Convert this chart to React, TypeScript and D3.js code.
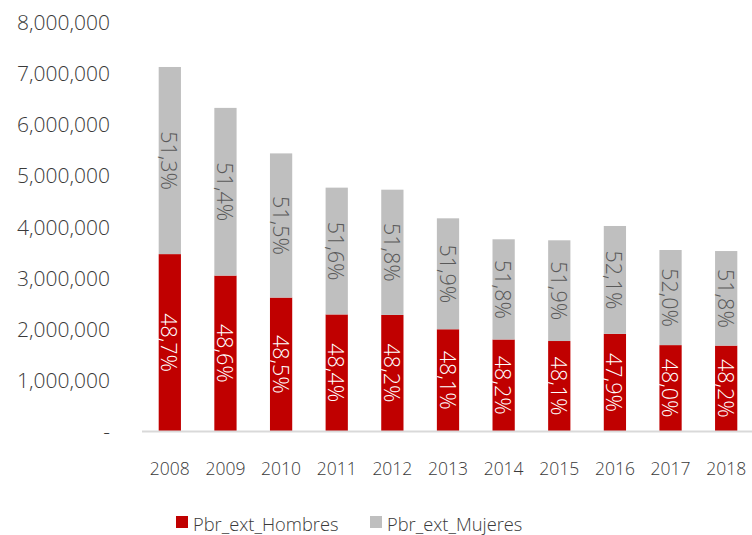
import React from "react";
import * as d3 from "d3";

const years = ["2008", "2009", "2010", "2011", "2012", "2013", "2014", "2015", "2016", "2017", "2018"];
const hombres = [3460000, 3040000, 2610000, 2280000, 2270000, 1990000, 1790000, 1760000, 1900000, 1680000, 1670000];
const mujeres = [3660000, 3280000, 2820000, 2480000, 2450000, 2170000, 1960000, 1970000, 2110000, 1860000, 1850000];
const hombresPct = ["48,7%", "48,6%", "48,5%", "48,4%", "48,2%", "48,1%", "48,2%", "48,1%", "47,9%", "48,0%", "48,2%"];
const mujeresPct = ["51,3%", "51,4%", "51,5%", "51,6%", "51,8%", "51,9%", "51,8%", "51,9%", "52,1%", "52,0%", "51,8%"];
const yTicks = [0, 1000000, 2000000, 3000000, 4000000, 5000000, 6000000, 7000000, 8000000];
const seriesNames = ["Pbr_ext_Hombres", "Pbr_ext_Mujeres"];

const W = 752;
const H = 535;
const RED = "#C00000";
const GRAY = "#BFBFBF";
const FONT = "'Open Sans', 'Noto Sans', sans-serif";

export default function App() {
  const x = d3.scaleBand<string>().domain(years).range([142, 754]).paddingInner(0.6).paddingOuter(0.3);
  const y = d3.scaleLinear().domain([0, 8000000]).range([431, 22]);
  const fmt = (v: number) => (v === 0 ? "-" : d3.format(",")(v));

  const rows = years.map((yr, i) => ({ yr, h: hombres[i], m: mujeres[i], hp: hombresPct[i], mp: mujeresPct[i] }));

  return (
    <svg width={W} height={H} style={{ position: "absolute", left: 0, top: 0, background: "#fff" }} fontFamily={FONT}>
      {yTicks.map((t) => (
        <text key={t} x={110} y={y(t)} textAnchor="end" dominantBaseline="central" fontSize={21} fill="#3a3a3a" fontWeight={300}>
          {fmt(t)}
        </text>
      ))}
      {rows.map((r) => {
        const bx = x(r.yr)!;
        const bw = x.bandwidth();
        const cx = bx + bw / 2;
        const yH = y(r.h);
        const yT = y(r.h + r.m);
        const cH = (y(0) + yH) / 2;
        const cM = (yH + yT) / 2;
        return (
          <g key={r.yr}>
            <rect x={bx} y={yH} width={bw} height={y(0) - yH} fill={RED} />
            <rect x={bx} y={yT} width={bw} height={yH - yT} fill={GRAY} />
            <text transform={`translate(${cx},${cH}) rotate(90)`} textAnchor="middle" dominantBaseline="central" fontSize={21.5} fill="#FFFFFF" fontWeight={300}>
              {r.hp}
            </text>
            <text transform={`translate(${cx},${cM}) rotate(90)`} textAnchor="middle" dominantBaseline="central" fontSize={21.5} fill="#595959" fontWeight={300}>
              {r.mp}
            </text>
            <text x={cx} y={468} textAnchor="middle" dominantBaseline="central" fontSize={17.5} fill="#3a3a3a" fontWeight={300}>
              {r.yr}
            </text>
          </g>
        );
      })}
      <line x1={142} x2={752} y1={431.5} y2={431.5} stroke="#D9D9D9" strokeWidth={2} />
      <rect x={176} y={516} width={12} height={12} fill={RED} />
      <text x={193} y={523} dominantBaseline="central" fontSize={18.3} fill="#3a3a3a" fontWeight={300}>
        {seriesNames[0]}
      </text>
      <rect x={370} y={516} width={12} height={12} fill={GRAY} />
      <text x={387} y={523} dominantBaseline="central" fontSize={18.3} fill="#3a3a3a" fontWeight={300}>
        {seriesNames[1]}
      </text>
    </svg>
  );
}
